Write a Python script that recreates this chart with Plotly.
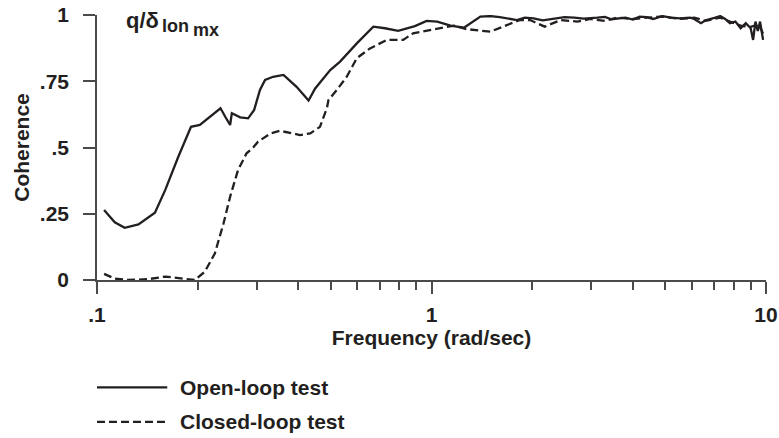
import plotly.graph_objects as go

# Open-loop test: coherence of q / delta_lon_mx vs frequency (rad/sec)
open_freq = [0.105, 0.113, 0.121, 0.133, 0.149, 0.160, 0.175, 0.191, 0.203, 0.218,
             0.234, 0.242, 0.250, 0.253, 0.268, 0.283, 0.295, 0.307, 0.318, 0.336,
             0.361, 0.395, 0.429, 0.449, 0.498, 0.533, 0.598, 0.670, 0.726, 0.795,
             0.892, 0.967, 1.04, 1.14, 1.25, 1.40, 1.50, 1.60, 1.70, 1.80,
             1.90, 2.02, 2.15, 2.32, 2.50, 2.67, 2.85, 3.13, 3.30, 3.45,
             3.60, 3.80, 4.00, 4.19, 4.40, 4.60, 4.89, 5.20, 5.53, 5.93,
             6.10, 6.39, 6.60, 6.84, 7.05, 7.30, 7.55, 7.80, 8.10, 8.40,
             8.70, 9.00, 9.15, 9.30, 9.45, 9.60, 9.80]
open_coh = [0.264, 0.218, 0.197, 0.210, 0.254, 0.340, 0.465, 0.578, 0.585, 0.616,
            0.648, 0.615, 0.585, 0.629, 0.614, 0.610, 0.642, 0.717, 0.755, 0.767,
            0.774, 0.729, 0.677, 0.723, 0.792, 0.824, 0.893, 0.956, 0.950, 0.940,
            0.958, 0.978, 0.975, 0.960, 0.952, 0.994, 0.996, 0.992, 0.985, 0.981,
            0.990, 0.987, 0.980, 0.985, 0.992, 0.990, 0.986, 0.990, 0.993, 0.984,
            0.987, 0.990, 0.983, 0.994, 0.992, 0.985, 0.996, 0.990, 0.987, 0.990,
            0.985, 0.969, 0.980, 0.987, 0.990, 0.996, 0.985, 0.969, 0.975, 0.950,
            0.969, 0.950, 0.906, 0.975, 0.940, 0.975, 0.906]

# Closed-loop test
closed_freq = [0.105, 0.113, 0.124, 0.142, 0.160, 0.175, 0.196, 0.210, 0.225, 0.239,
               0.250, 0.264, 0.280, 0.293, 0.303, 0.330, 0.352, 0.386, 0.404, 0.434,
               0.455, 0.464, 0.487, 0.492, 0.521, 0.558, 0.598, 0.655, 0.736, 0.823,
               0.881, 0.967, 1.04, 1.17, 1.27, 1.50, 1.68, 1.84, 1.97, 2.18,
               2.43, 2.73, 2.98, 3.30, 3.60, 4.00, 4.40, 4.89, 5.53, 6.10,
               6.60, 7.30, 7.80, 8.40, 9.00, 9.50, 9.80]
closed_coh = [0.023, 0.005, 0.000, 0.003, 0.013, 0.006, 0.000, 0.031, 0.100, 0.214,
              0.314, 0.415, 0.478, 0.500, 0.522, 0.553, 0.563, 0.553, 0.547, 0.553,
              0.573, 0.578, 0.650, 0.679, 0.717, 0.767, 0.837, 0.874, 0.906, 0.906,
              0.931, 0.941, 0.947, 0.960, 0.947, 0.937, 0.962, 0.981, 0.981, 0.956,
              0.981, 0.975, 0.985, 0.978, 0.990, 0.985, 0.990, 0.994, 0.985, 0.990,
              0.978, 0.990, 0.975, 0.960, 0.955, 0.965, 0.930]

x_tickvals = [0.1, 1, 10]
x_ticktext = [".1", "1", "10"]
x_minor = [0.2, 0.3, 0.4, 0.5, 0.6, 0.7, 0.8, 0.9, 2, 3, 4, 5, 6, 7, 8, 9]
y_tickvals = [0, 0.25, 0.5, 0.75, 1]
y_ticktext = ["0", ".25", ".5", ".75", "1"]

INK = "#231f20"
AXIS = "#4a4a4a"
FONT = "Liberation Sans"
DASH = "8px,4px"

fig = go.Figure()
fig.add_trace(go.Scatter(x=open_freq, y=open_coh, mode="lines",
                         line=dict(color=INK, width=2.3), name="Open-loop test"))
fig.add_trace(go.Scatter(x=closed_freq, y=closed_coh, mode="lines",
                         line=dict(color=INK, width=2.3, dash=DASH),
                         name="Closed-loop test"))

fig.update_layout(
    width=779, height=438,
    margin=dict(l=97, r=13, t=15, b=158, autoexpand=False),
    paper_bgcolor="white", plot_bgcolor="white",
    showlegend=False,
    font=dict(family=FONT, size=21, color=INK),
)

fig.update_xaxes(
    type="log", range=[-1, 1], automargin=False,
    tickmode="array", tickvals=x_tickvals, ticktext=x_ticktext,
    ticks="outside", ticklen=12, tickwidth=1.5, tickcolor=AXIS,
    ticklabelstandoff=3,
    minor=dict(tickmode="array", tickvals=x_minor, ticks="outside",
               ticklen=8, tickwidth=1.5, tickcolor=AXIS),
    showline=True, linecolor=AXIS, linewidth=1.5,
    showgrid=False, zeroline=False,
    tickfont=dict(family=FONT, size=21, color=INK, weight="bold"),
    title=dict(text="Frequency (rad/sec)", standoff=4,
               font=dict(family=FONT, size=21, color=INK, weight="bold")),
)
fig.update_yaxes(
    range=[0, 1], automargin=False,
    tickmode="array", tickvals=y_tickvals, ticktext=y_ticktext,
    ticks="outside", ticklen=12, tickwidth=1.5, tickcolor=AXIS,
    ticklabelstandoff=10,
    showline=True, linecolor=AXIS, linewidth=1.5,
    showgrid=False, zeroline=False,
    tickfont=dict(family=FONT, size=21, color=INK, weight="bold"),
    title=dict(text="Coherence", standoff=4,
               font=dict(family=FONT, size=21, color=INK, weight="bold")),
)

# Transfer-function label q/δ with stacked subscripts
fig.add_annotation(x=0.040, y=1.035, xref="paper", yref="paper", xanchor="left",
                   yanchor="top", showarrow=False, text="<b>q/δ</b>",
                   font=dict(family=FONT, size=22, color=INK))
fig.add_annotation(x=0.094, y=1.005, xref="paper", yref="paper", xanchor="left",
                   yanchor="top", showarrow=False, text="<b>lon</b>",
                   font=dict(family=FONT, size=18, color=INK))
fig.add_annotation(x=0.141, y=0.987, xref="paper", yref="paper", xanchor="left",
                   yanchor="top", showarrow=False, text="<b>mx</b>",
                   font=dict(family=FONT, size=18, color=INK))

# Key below the plot
legend_rows = [("Open-loop test", "solid", -0.405), ("Closed-loop test", DASH, -0.535)]
for label, dash, yp in legend_rows:
    fig.add_shape(type="line", xref="paper", yref="paper", x0=0.0, x1=0.105,
                  y0=yp, y1=yp, line=dict(color=INK, width=2.3, dash=dash))
    fig.add_annotation(x=0.121, y=yp, xref="paper", yref="paper", xanchor="left",
                       yanchor="middle", showarrow=False, text=label,
                       font=dict(family=FONT, size=21, color=INK, weight="bold"))

fig.write_html("out.html")
